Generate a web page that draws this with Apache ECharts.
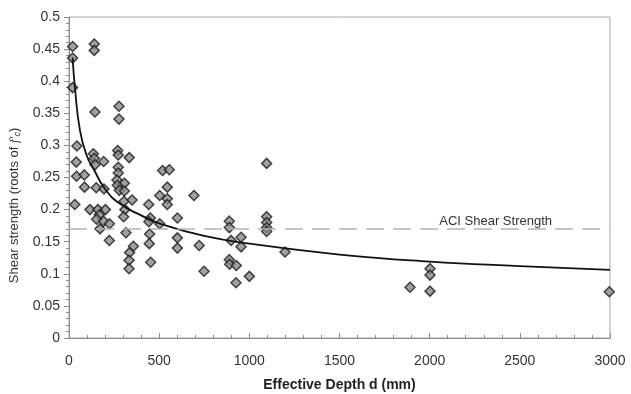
<!DOCTYPE html>
<html>
<head>
<meta charset="utf-8">
<script src="https://cdn.jsdelivr.net/npm/echarts@6/dist/echarts.min.js"></script>
<style>
html, body { margin: 0; padding: 0; background: #fff; }
#chart { width: 631px; height: 394px; }
</style>
</head>
<body>
<div id="chart"></div>
<script>
// test specimens: effective depth (mm) and measured shear strength (roots of f'c)
var depth = [
    20, 20, 20, 140, 140, 144, 277, 277,
    44, 40, 42, 85, 86, 135, 140, 144, 192, 151, 194,
    270, 273, 334, 273, 273, 266, 307, 268, 279, 307,
    519, 556, 545, 503, 545, 545, 693,
    32, 116, 160, 202, 168, 153, 192, 172, 224, 224,
    305, 350, 310, 303, 316, 357, 336, 333, 333,
    442, 451, 443, 503, 601, 447, 445, 453, 601, 601, 722, 749,
    1096, 1096, 1096, 1096, 1096,
    889, 889, 899, 954, 954, 889, 891, 928, 1000, 926, 1198,
    1891, 2002, 2002, 2002, 2996
];
var strength = [
    0.454, 0.436, 0.390, 0.458, 0.448, 0.352, 0.361, 0.341,
    0.299, 0.274, 0.252, 0.254, 0.235, 0.287, 0.280, 0.270, 0.275, 0.234, 0.232,
    0.292, 0.285, 0.281, 0.266, 0.257, 0.246, 0.241, 0.238, 0.230, 0.229,
    0.261, 0.262, 0.235, 0.222, 0.217, 0.208, 0.222,
    0.208, 0.200, 0.200, 0.200, 0.192, 0.185, 0.182, 0.170, 0.178, 0.152,
    0.213, 0.215, 0.200, 0.189, 0.164, 0.143, 0.133, 0.121, 0.108,
    0.208, 0.187, 0.181, 0.178, 0.187, 0.162, 0.147, 0.118, 0.156, 0.140, 0.144, 0.104,
    0.272, 0.189, 0.180, 0.172, 0.166,
    0.182, 0.172, 0.152, 0.157, 0.142, 0.122, 0.115, 0.113, 0.096, 0.086, 0.134,
    0.079, 0.108, 0.098, 0.073, 0.072
];

// trend curve
var fitDepth = [20, 33, 61, 100, 135, 200, 283, 400, 505, 750, 1000, 1500, 2000, 2500, 3000];
var fitStrength = [0.437, 0.390, 0.323, 0.283, 0.264, 0.232, 0.209, 0.191, 0.178, 0.159, 0.147, 0.130, 0.119, 0.112, 0.106];

var aciStrength = 0.166;
var aciLabel = 'ACI Shear Strength';

var xTicks = { min: 0, max: 3000, step: 500 };
var yTicks = { min: 0, max: 0.5, step: 0.05 };

var points = [];
for (var i = 0; i < depth.length; i++) {
    points.push([depth[i], strength[i]]);
}
var fitLine = [];
for (var j = 0; j < fitDepth.length; j++) {
    fitLine.push([fitDepth[j], fitStrength[j]]);
}

var chart = echarts.init(document.getElementById('chart'));

var labelFont = {
    color: '#333',
    fontSize: 14,
    fontFamily: 'Liberation Sans, Arial, sans-serif'
};

chart.setOption({
    animation: false,
    backgroundColor: '#fff',
    grid: {
        left: 69,
        right: 21,
        top: 17,
        bottom: 56,
        containLabel: false,
        outerBoundsMode: 'none',
        show: true,
        borderColor: '#a8a8a8',
        borderWidth: 1
    },
    xAxis: {
        type: 'value',
        min: xTicks.min,
        max: xTicks.max,
        interval: xTicks.step,
        name: 'Effective Depth d (mm)',
        nameLocation: 'middle',
        nameGap: 40,
        nameTextStyle: {
            color: '#222',
            fontSize: 14,
            fontWeight: 'bold',
            fontFamily: 'Liberation Sans, Arial, sans-serif'
        },
        axisLine: { lineStyle: { color: '#8c8c8c', width: 1 } },
        axisTick: { inside: true, length: 5, lineStyle: { color: '#8c8c8c' } },
        minorTick: { show: true, splitNumber: 5, length: 3, lineStyle: { color: '#8c8c8c' } },
        axisLabel: Object.assign({
            margin: 16,
            formatter: function (v) { return String(v); }
        }, labelFont),
        splitLine: { show: false }
    },
    yAxis: {
        type: 'value',
        min: yTicks.min,
        max: yTicks.max,
        interval: yTicks.step,
        name: 'Shear strength (roots of {f|f′}{c|c})',
        nameLocation: 'middle',
        nameGap: 42,
        nameTextStyle: {
            color: '#333',
            fontSize: 13,
            fontFamily: 'Liberation Sans, Arial, sans-serif',
            padding: [0, 56, 0, 0],
            rich: {
                f: { fontSize: 13, fontStyle: 'italic', color: '#333', fontFamily: 'Liberation Serif, serif' },
                c: { fontSize: 9, fontStyle: 'italic', color: '#333', padding: [6, 0, 0, 0] }
            }
        },
        axisLine: { lineStyle: { color: '#8c8c8c', width: 1 } },
        axisTick: { length: 5, lineStyle: { color: '#8c8c8c' } },
        minorTick: { show: true, splitNumber: 5, length: 3, lineStyle: { color: '#8c8c8c' } },
        axisLabel: Object.assign({ margin: 9 }, labelFont),
        splitLine: { show: false }
    },
    series: [
        {
            type: 'scatter',
            data: points,
            symbol: 'diamond',
            symbolSize: 10,
            itemStyle: {
                color: '#8a8a8a',
                borderColor: '#1c1c1c',
                borderWidth: 1.5
            },
            z: 3,
            markLine: {
                silent: true,
                symbol: 'none',
                data: [{ yAxis: aciStrength }],
                lineStyle: { color: '#b4b4b4', type: [18, 9], width: 1.5 },
                label: {
                    formatter: aciLabel,
                    position: 'insideEndTop',
                    distance: [58, 1],
                    color: '#333',
                    fontSize: 13,
                    fontFamily: 'Liberation Sans, Arial, sans-serif'
                }
            }
        },
        {
            type: 'line',
            data: fitLine,
            smooth: true,
            showSymbol: false,
            lineStyle: { color: '#111', width: 1.8 },
            z: 4
        }
    ]
});
</script>
</body>
</html>
